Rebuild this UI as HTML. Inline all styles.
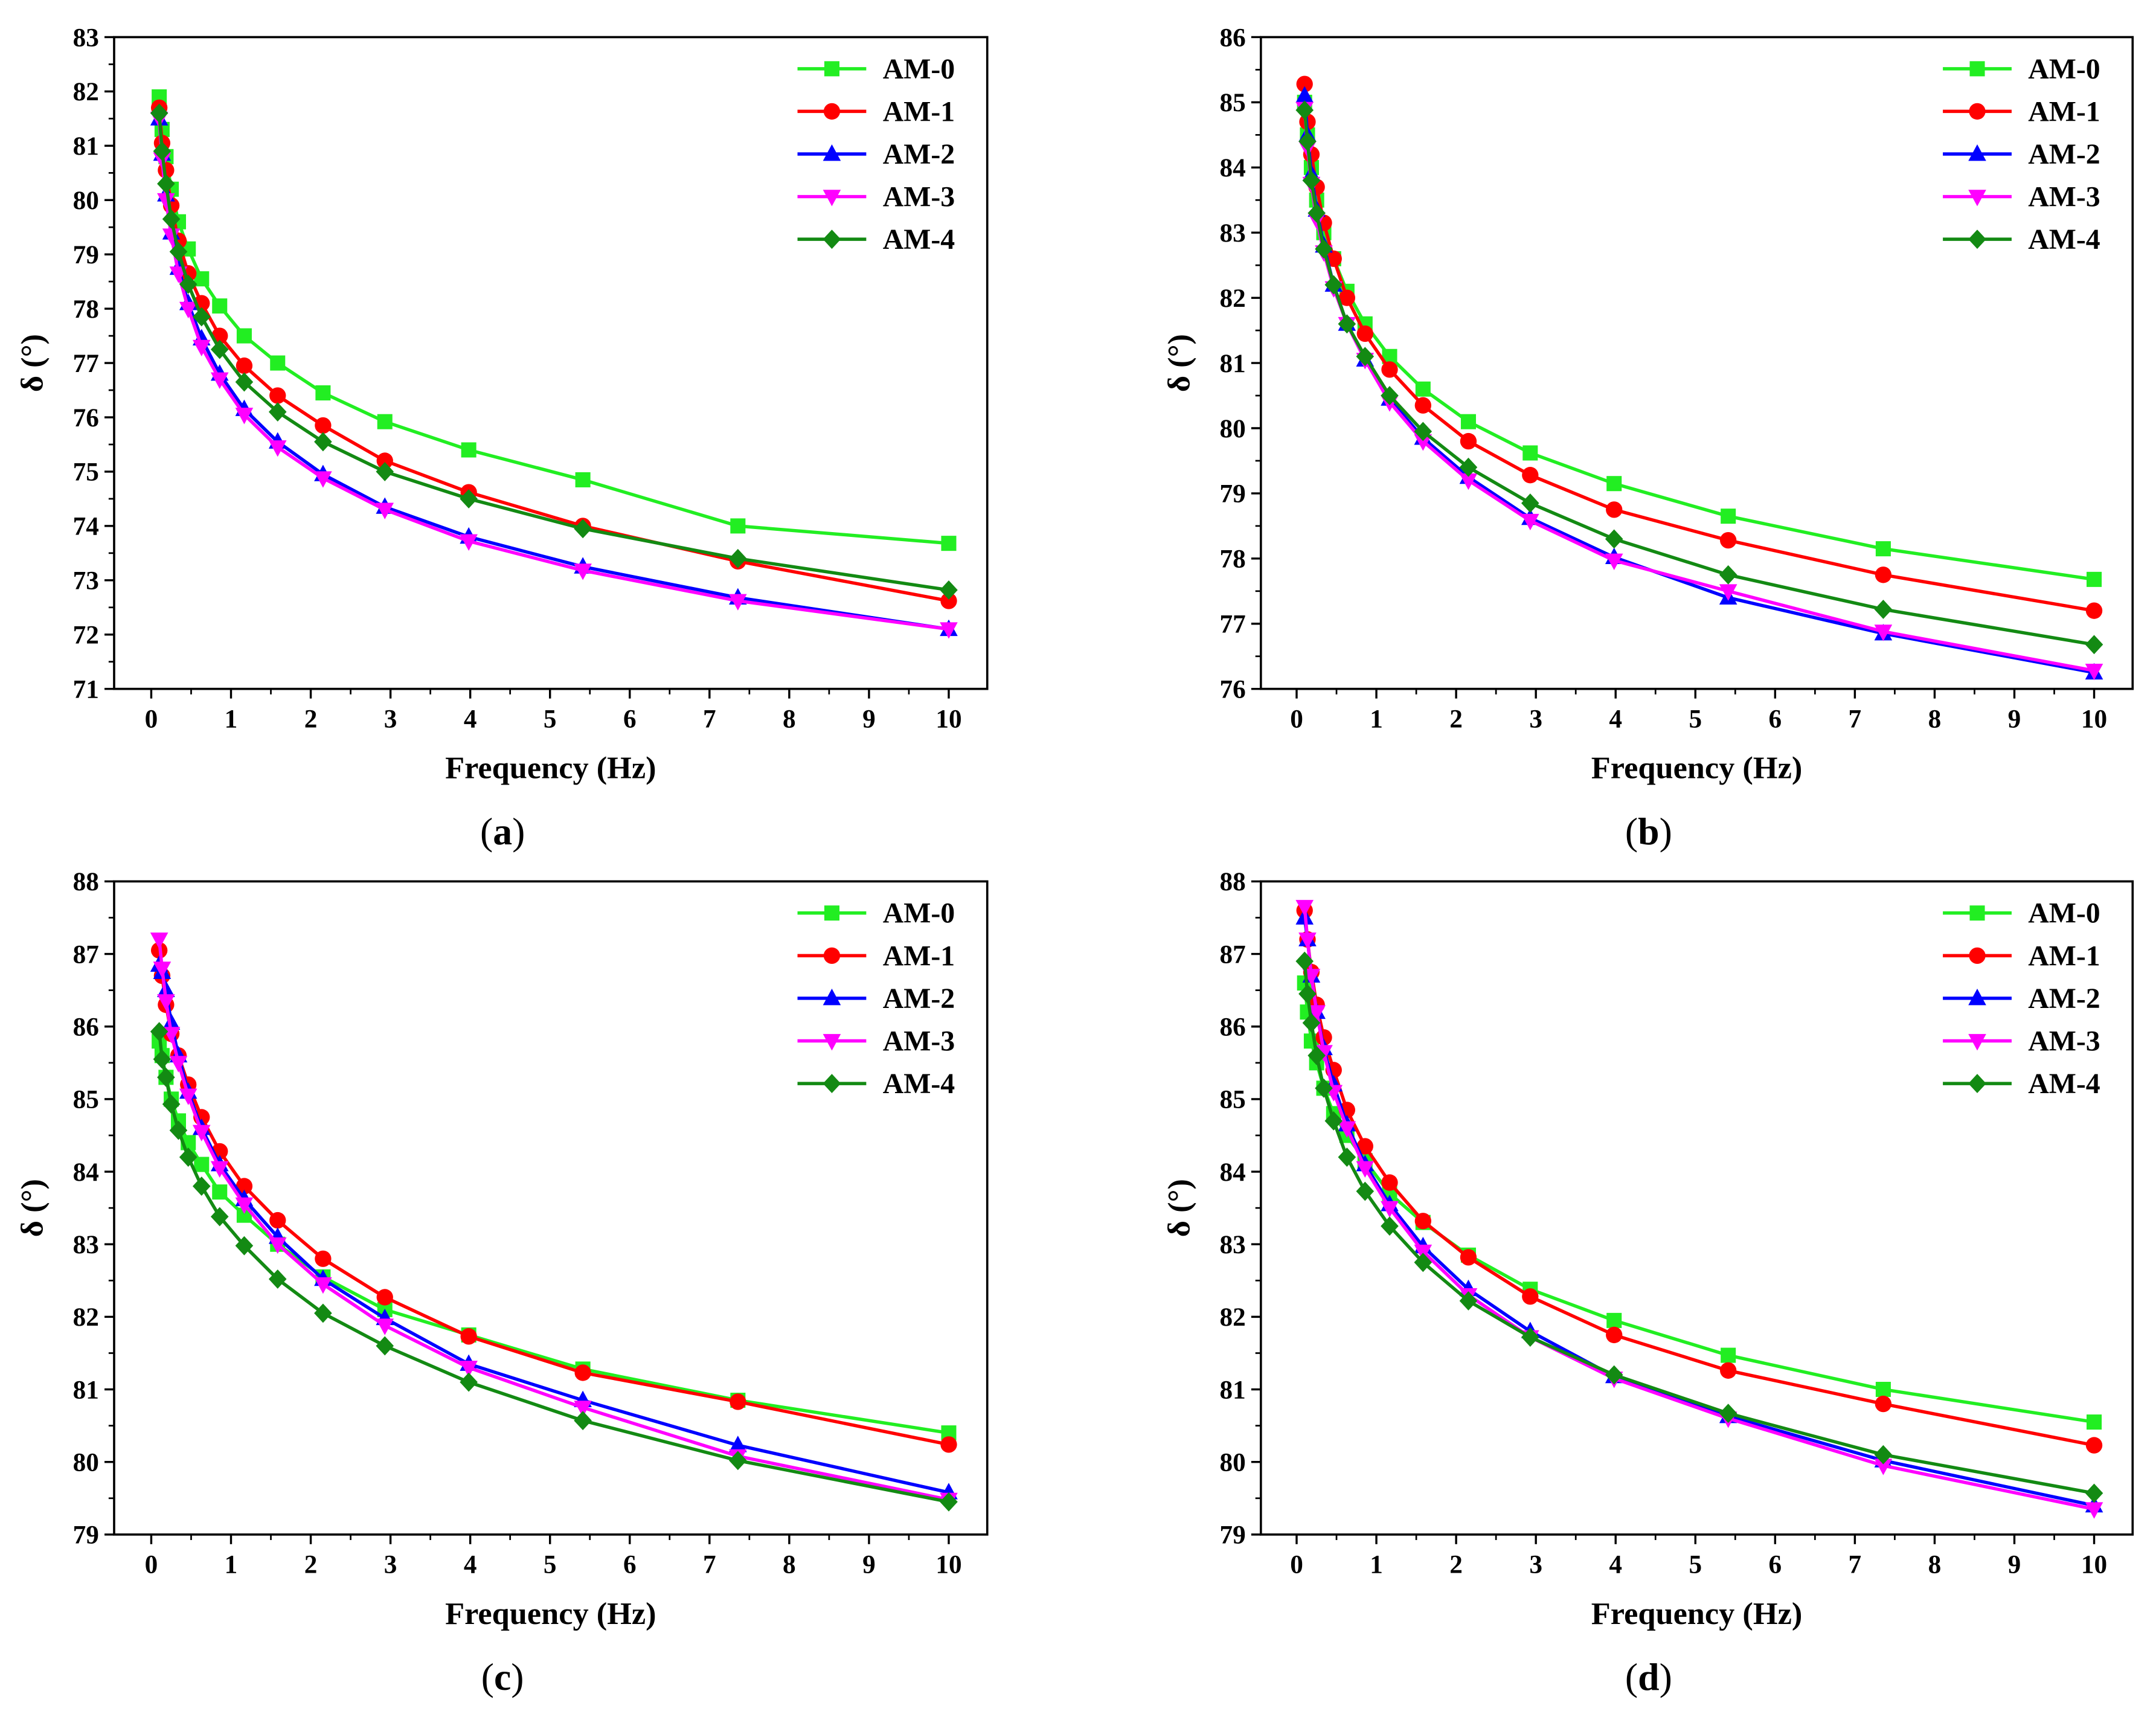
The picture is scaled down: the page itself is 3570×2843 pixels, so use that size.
<!DOCTYPE html>
<html><head><meta charset="utf-8"><style>
html,body{margin:0;padding:0;background:#fff;}
svg{display:block;}
text{font-family:"Liberation Serif",serif;}
</style></head><body>
<svg id="fig" width="3570" height="2843" viewBox="0 0 1568 1248.7" preserveAspectRatio="none" xmlns="http://www.w3.org/2000/svg"></svg>
<script>
const freqs = [0.1,0.136,0.185,0.251,0.341,0.464,0.631,0.858,1.166,1.585,2.154,2.929,3.981,5.412,7.356,10];
const seriesNames = ["AM-0","AM-1","AM-2","AM-3","AM-4"];
const xTicks = [0,1,2,3,4,5,6,7,8,9,10];

const aAM0 = [81.9,81.3,80.8,80.2,79.6,79.1,78.55,78.05,77.5,77.0,76.45,75.92,75.4,74.85,74.0,73.68];
const aAM1 = [81.7,81.05,80.55,79.9,79.25,78.65,78.1,77.5,76.95,76.4,75.85,75.2,74.62,74.0,73.35,72.62];
const aAM2 = [81.5,80.85,80.1,79.4,78.75,78.1,77.45,76.8,76.15,75.55,74.95,74.35,73.8,73.25,72.68,72.1];
const aAM3 = [81.5,80.75,80.0,79.35,78.65,78.0,77.3,76.7,76.05,75.45,74.88,74.3,73.72,73.18,72.62,72.1];
const aAM4 = [81.6,80.9,80.3,79.65,79.05,78.45,77.85,77.25,76.65,76.1,75.55,75.0,74.5,73.95,73.4,72.82];
const aYTicks = [71,72,73,74,75,76,77,78,79,80,81,82,83];

const bAM0 = [85.0,84.5,84.0,83.5,83.0,82.6,82.1,81.6,81.1,80.6,80.1,79.62,79.15,78.65,78.15,77.68];
const bAM1 = [85.28,84.7,84.2,83.7,83.15,82.6,82.0,81.45,80.9,80.35,79.8,79.28,78.75,78.28,77.75,77.2];
const bAM2 = [85.1,84.5,83.9,83.35,82.8,82.2,81.6,81.05,80.45,79.85,79.25,78.62,78.02,77.4,76.85,76.25];
const bAM3 = [84.9,84.3,83.75,83.2,82.7,82.15,81.6,81.05,80.4,79.8,79.2,78.58,77.97,77.5,76.88,76.28];
const bAM4 = [84.88,84.4,83.8,83.3,82.75,82.2,81.6,81.1,80.5,79.95,79.4,78.85,78.3,77.75,77.22,76.68];
const bYTicks = [76,77,78,79,80,81,82,83,84,85,86];

const cAM0 = [85.8,85.6,85.3,85.0,84.7,84.4,84.1,83.72,83.4,83.0,82.55,82.1,81.75,81.28,80.85,80.4];
const cAM1 = [87.05,86.7,86.3,85.9,85.6,85.2,84.75,84.28,83.8,83.33,82.8,82.27,81.73,81.23,80.83,80.24];
const cAM2 = [86.85,86.75,86.5,86.05,85.6,85.1,84.6,84.1,83.62,83.1,82.52,81.98,81.35,80.85,80.23,79.58];
const cAM3 = [87.2,86.8,86.35,85.9,85.5,85.05,84.55,84.05,83.55,83.0,82.45,81.88,81.3,80.75,80.08,79.48];
const cAM4 = [85.93,85.55,85.3,84.93,84.57,84.2,83.8,83.38,82.98,82.52,82.05,81.6,81.1,80.57,80.02,79.45];
const cYTicks = [79,80,81,82,83,84,85,86,87,88];

const dAM0 = [86.6,86.2,85.8,85.5,85.15,84.8,84.5,84.15,83.7,83.3,82.85,82.38,81.95,81.47,81.0,80.55];
const dAM1 = [87.6,87.2,86.75,86.3,85.85,85.4,84.85,84.35,83.85,83.32,82.82,82.28,81.75,81.26,80.8,80.23];
const dAM2 = [87.5,87.2,86.7,86.2,85.7,85.2,84.65,84.1,83.55,82.97,82.38,81.8,81.18,80.63,80.02,79.4];
const dAM3 = [87.65,87.2,86.7,86.2,85.65,85.1,84.6,84.05,83.5,82.9,82.3,81.72,81.15,80.6,79.95,79.35];
const dAM4 = [86.9,86.45,86.05,85.6,85.15,84.7,84.2,83.73,83.25,82.75,82.22,81.72,81.2,80.67,80.1,79.57];
const dYTicks = [79,80,81,82,83,84,85,86,87,88];

const colors = ["#22ee22","#ff0000","#0000ff","#ff00ff","#138a13"];
const markers = ["square","circle","up","down","diamond"];
const NS = "http://www.w3.org/2000/svg";
const svg = document.getElementById("fig");
function mk(tag, attrs, parent){const e=document.createElementNS(NS,tag);for(const k in attrs)e.setAttribute(k,attrs[k]);(parent||svg).appendChild(e);return e;}

function marker(g,type,x,y,c){
  const r=5.5;let e;
  if(type==="square") e=mk("rect",{x:x-r,y:y-r,width:2*r,height:2*r,fill:c},g);
  else if(type==="circle") e=mk("circle",{cx:x,cy:y,r:r+0.5,fill:c},g);
  else if(type==="up") e=mk("polygon",{points:`${x},${y-r-1.5} ${x-r-1},${y+r-0.5} ${x+r+1},${y+r-0.5}`,fill:c},g);
  else if(type==="down") e=mk("polygon",{points:`${x},${y+r+1.5} ${x-r-1},${y-r+0.5} ${x+r+1},${y-r+0.5}`,fill:c},g);
  else e=mk("polygon",{points:`${x},${y-r-1.5} ${x+r+1},${y} ${x},${y+r+1.5} ${x-r-1},${y}`,fill:c},g);
  
  
}

function panel(id,L,R,T,B,x0px,x10px,yTicks,series,label,legX){
  const g=mk("g",{});
  
  
  const ymin=yTicks[0], ymax=yTicks[yTicks.length-1];
  const sx=v=>x0px+(x10px-x0px)*v/10;
  const sy=v=>B-(B-T)*(v-ymin)/(ymax-ymin);
  const frame=mk("rect",{x:L,y:T,width:R-L,height:B-T,fill:"none",stroke:"#000","stroke-width":1.6},g);
  
  
  const xa=mk("g",{},g);
  
  
  xTicks.forEach((t,i)=>{
    const x=sx(t);
    mk("line",{x1:x,y1:B,x2:x,y2:B+7,stroke:"#000","stroke-width":1.5},xa);
    if(i<xTicks.length-1) mk("line",{x1:sx(t+0.5),y1:B,x2:sx(t+0.5),y2:B+4,stroke:"#000","stroke-width":1.2},xa);
    const tx=mk("text",{x:x,y:B+28,"text-anchor":"middle","font-size":19,"font-weight":"bold"},xa);
    tx.textContent=t;
    
    
  });
  const ya=mk("g",{},g);
  
  
  yTicks.forEach((t,i)=>{
    const y=sy(t);
    mk("line",{x1:L-7,y1:y,x2:L,y2:y,stroke:"#000","stroke-width":1.5},ya);
    if(i<yTicks.length-1) mk("line",{x1:L-4,y1:sy(t+0.5),x2:L,y2:sy(t+0.5),stroke:"#000","stroke-width":1.2},ya);
    const tx=mk("text",{x:L-11,y:y+6.5,"text-anchor":"end","font-size":19,"font-weight":"bold"},ya);
    tx.textContent=t;
    
    
  });
  const xt=mk("text",{x:(L+R)/2,y:B+65,"text-anchor":"middle","font-size":23,"font-weight":"bold"},g);
  xt.textContent="Frequency (Hz)";
  
  
  const cy=(T+B)/2, cx=L-52;
  const yt=mk("text",{x:cx,y:cy,"text-anchor":"middle","font-size":23,"font-weight":"bold",transform:`rotate(-90 ${cx} ${cy})`},g);
  yt.textContent="δ (°)";
  
  
  const pl=mk("text",{x:(L+R)/2-35,y:B+113,"text-anchor":"middle","font-size":28},g);
  pl.innerHTML='(<tspan font-weight="bold">'+label+'</tspan>)';
  
  
  series.forEach((vals,si)=>{
    const sg=mk("g",{},g);
    
    
    const pts=vals.map((v,i)=>sx(freqs[i]).toFixed(2)+","+sy(v).toFixed(2)).join(" ");
    const pline=mk("polyline",{points:pts,fill:"none",stroke:colors[si],"stroke-width":2.4},sg);
    
    
    vals.forEach((v,i)=>marker(sg,markers[si],sx(freqs[i]),sy(v),colors[si]));
  });
  const lg=mk("g",{},g);
  
  
  seriesNames.forEach((n,si)=>{
    const y=T+23+31*si;
    const le=mk("g",{},lg);
    
    
    mk("line",{x1:legX,y1:y,x2:legX+50,y2:y,stroke:colors[si],"stroke-width":2.4},le);
    marker(le,markers[si],legX+25,y,colors[si]);
    const t=mk("text",{x:legX+62,y:y+7,"font-size":21,"font-weight":"bold"},le);
    t.textContent=n;
  });
}
panel("a",83,718,27,501,110,690,aYTicks,[aAM0,aAM1,aAM2,aAM3,aAM4],"a",580);
panel("b",917,1551,27,501,943,1523,bYTicks,[bAM0,bAM1,bAM2,bAM3,bAM4],"b",1413);
panel("c",83,718,641,1116,110,690,cYTicks,[cAM0,cAM1,cAM2,cAM3,cAM4],"c",580);
panel("d",917,1551,641,1116,943,1523,dYTicks,[dAM0,dAM1,dAM2,dAM3,dAM4],"d",1413);
</script>
</body></html>
